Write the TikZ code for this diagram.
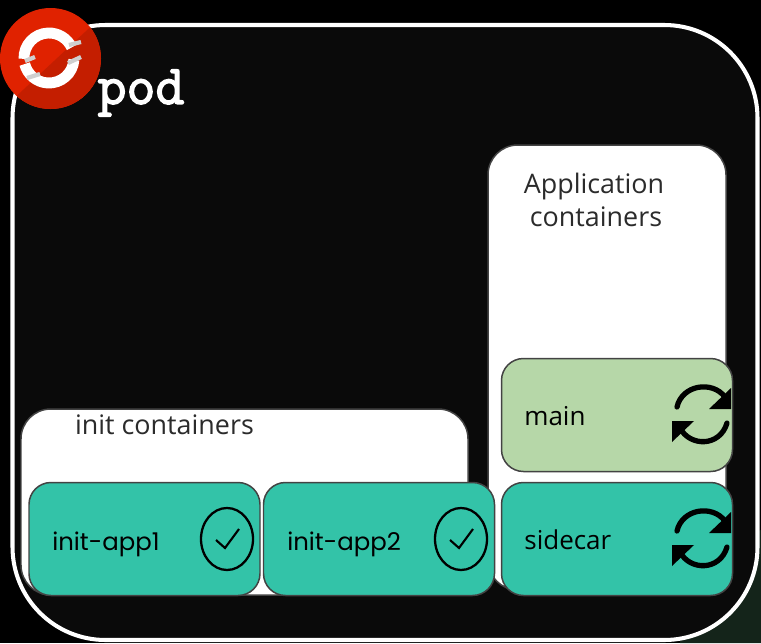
\documentclass[tikz,border=0pt]{standalone}
\usepackage{fontspec}
\setmainfont{Open Sans}
\newfontfamily\boxfont{Poppins}
\newfontfamily\podfont[FakeBold=2.5]{Latin Modern Mono}
\definecolor{podfill}{HTML}{0A0A0A}
\definecolor{cornergreen}{HTML}{14241A}
\definecolor{edgegrey}{HTML}{434343}
\definecolor{teal}{HTML}{33C3A8}
\definecolor{leaf}{HTML}{B6D7A8}
\definecolor{logored}{HTML}{E02200}
\definecolor{logodark}{HTML}{C41E00}
\definecolor{bandgrey}{HTML}{CFCFCF}
\definecolor{labelgrey}{HTML}{2B2B2B}
\usetikzlibrary{shapes.geometric}
\newcommand{\pxu}{*0.02cm}
\tikzset{
	group/.style={draw=edgegrey,line width=0.85pt,fill=white,rounded corners=17pt,inner sep=0pt},
	boxed/.style={draw=edgegrey,line width=0.85pt,rounded corners=12.5pt,inner sep=0pt,minimum width=231\pxu,minimum height=113\pxu},
	boxtext/.style={anchor=west,inner sep=0pt,font=\fontsize{14.8}{18}\selectfont},
	appname/.style={anchor=west,inner sep=0pt,font=\boxfont\fontsize{13.9}{18}\selectfont},
	grouptext/.style={inner sep=0pt,text=labelgrey,font=\fontsize{15.3}{18}\selectfont},
	donemark/.style={draw=black,line width=1.3pt,ellipse,inner sep=0pt,minimum width=52\pxu,minimum height=62\pxu},
}
\begin{document}
\begin{tikzpicture}[x=0.02cm,y=-0.02cm]
	
	\useasboundingbox (0,0) rectangle (761,643);
	\fill[black] (0,0) rectangle (761,643);
	\fill[cornergreen] (680,560) -- (761,530) -- (761,643) -- (680,643) -- cycle;
	
	\node[draw=white,line width=2.3pt,fill=podfill,rounded corners=53pt,inner sep=0pt,minimum width=745\pxu,minimum height=615\pxu] (pod) at (385,332.5) {};
	
	\node[group,minimum width=238\pxu,minimum height=445\pxu] (appbox) at (607,367.5) {};
	
	\node[group,minimum width=447\pxu,minimum height=186\pxu] (initbox) at (244.5,502) {};
	
	\node[boxed,fill=teal] (app1) at (144.5,539) {};
	
	\node[boxed,fill=teal] (app2) at (379,539) {};
	
	\node[boxed,fill=teal] (sidecar) at (617,539) {};
	
	\node[boxed,fill=leaf] (main) at (617,415) {};
	
	\node[grouptext] (apptitle) at (594,187) {Application};
	\node[grouptext] (apptitle2) at (596,217) {containers};
	\node[grouptext] (inittitle) at (164.5,425) {init containers};
	
	\node[appname] (app1text) at (52,544) {init-app1};
	\node[appname] (app2text) at (287,544) {init-app2};
	\node[boxtext] (sidecartext) at (524,540) {sidecar};
	\node[boxtext] (maintext) at (524,416) {main};
	
	\node[inner sep=0pt,font=\podfont\fontsize{32}{32}\selectfont,text=white] (podtext) at (141,93) {pod};
	
	% finished marks
	\node[donemark] (done1) at (227,539) {};
	\node[donemark] (done2) at (461,539) {};
	\draw[line width=1.2pt] (216,540) -- (225,548) -- (239,529);
	\draw[line width=1.2pt] (450,540) -- (459,548) -- (473,529);
	
	% restart arrows
	\foreach \y in {0,124}{
		\draw[line width=3pt,line cap=round] (677,407+\y) .. controls (682,385+\y) and (712,380+\y) .. (725,397+\y);
		\draw[line width=3pt,line cap=round] (727,423+\y) .. controls (720,447+\y) and (690,447+\y) .. (680,428+\y);
		\fill (731,388+\y) -- (731,409+\y) -- (709,409+\y) -- cycle;
		\fill (672,421+\y) -- (694,421+\y) -- (672,442+\y) -- cycle;
	}
	
	% logo
	\fill[logored] (50.5,58.5) circle (50.5);
	\begin{scope}
		\clip (50.5,58.5) circle (50.5);
		\fill[logodark] (100,18) -- (110,115) -- (0,115) -- (8,104) -- cycle;
	\end{scope}
	\draw[white,line width=6.2pt] (49,58) ++(178:25) arc[start angle=178,end angle=335,radius=25];
	\draw[white,line width=6.2pt] (49,58) ++(4:25) arc[start angle=4,end angle=166,radius=25];
	\draw[bandgrey,line width=2.4pt] (25,61) -- (35,57);
	\draw[bandgrey,line width=2.4pt] (27,78) -- (40,74);
	\draw[bandgrey,line width=2.4pt] (69,45) -- (81,42);
	\draw[bandgrey,line width=2.4pt] (68,63) -- (81,57);
	
\end{tikzpicture}
\end{document}
